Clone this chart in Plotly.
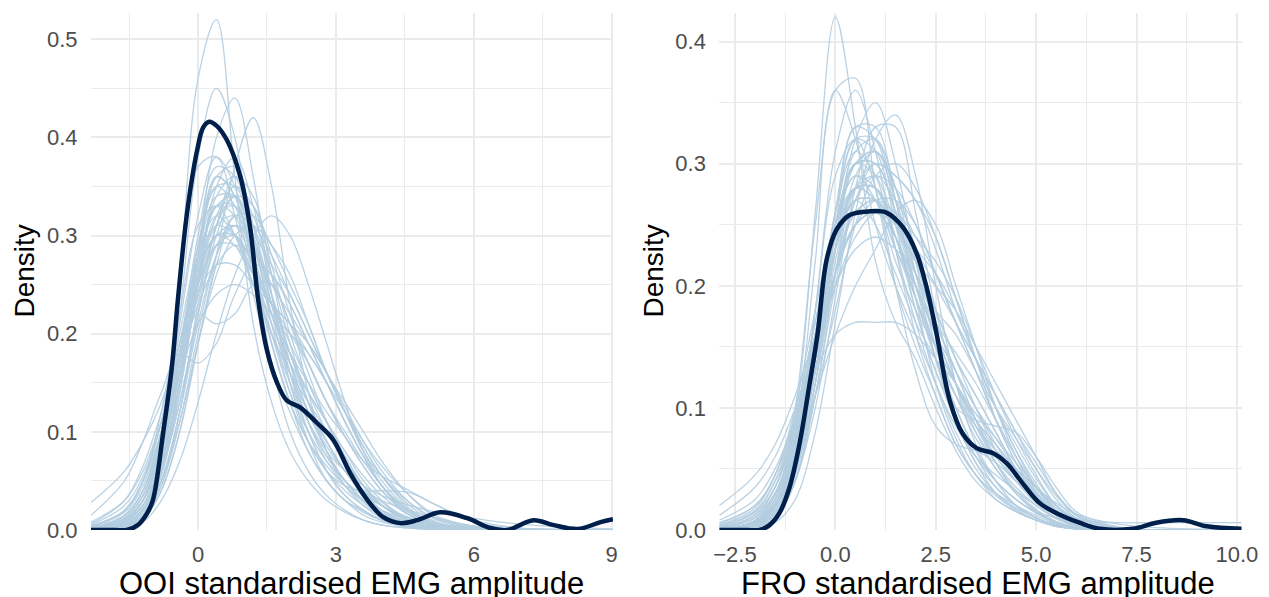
import plotly.graph_objects as go

# ---------------- OOI panel (left) ----------------
ooi_grid = [-2.33, -1.6, -1.2, -0.8, -0.4, 0.0, 0.4, 0.8, 1.2, 1.6, 2.0,
            2.4, 2.8, 3.2, 3.6, 4.0, 4.6, 5.2, 6.0, 7.0, 9.03]

ooi_reps = [
    [0.0, 0.002, 0.01, 0.06, 0.25, 0.46, 0.52, 0.36, 0.21, 0.13, 0.08, 0.05, 0.03, 0.018, 0.01, 0.005, 0.002, 0.001, 0, 0, 0],
    [0.0, 0.004, 0.02, 0.08, 0.22, 0.38, 0.45, 0.40, 0.28, 0.17, 0.10, 0.06, 0.035, 0.02, 0.01, 0.005, 0.002, 0.0, 0, 0, 0],
    [0.0, 0.003, 0.015, 0.06, 0.15, 0.28, 0.40, 0.44, 0.36, 0.24, 0.15, 0.09, 0.05, 0.03, 0.015, 0.008, 0.003, 0.001, 0, 0, 0],
    [0.0, 0.002, 0.01, 0.04, 0.10, 0.19, 0.28, 0.37, 0.42, 0.35, 0.23, 0.14, 0.08, 0.045, 0.025, 0.012, 0.004, 0.001, 0, 0, 0],
    [0.001, 0.008, 0.03, 0.10, 0.25, 0.37, 0.38, 0.32, 0.24, 0.17, 0.12, 0.08, 0.05, 0.03, 0.018, 0.01, 0.004, 0.001, 0, 0, 0],
    [0.0, 0.002, 0.008, 0.03, 0.07, 0.13, 0.20, 0.26, 0.30, 0.32, 0.30, 0.25, 0.19, 0.13, 0.08, 0.045, 0.015, 0.004, 0, 0, 0],
    [0.015, 0.05, 0.09, 0.14, 0.18, 0.17, 0.19, 0.24, 0.27, 0.26, 0.23, 0.19, 0.15, 0.11, 0.075, 0.045, 0.018, 0.006, 0.001, 0, 0],
    [0.028, 0.06, 0.09, 0.13, 0.19, 0.25, 0.29, 0.30, 0.27, 0.22, 0.17, 0.12, 0.08, 0.05, 0.03, 0.017, 0.006, 0.002, 0, 0, 0],
    [0.002, 0.015, 0.04, 0.10, 0.19, 0.28, 0.34, 0.34, 0.29, 0.22, 0.15, 0.10, 0.06, 0.035, 0.02, 0.01, 0.004, 0.001, 0, 0, 0],
    [0.001, 0.01, 0.03, 0.08, 0.16, 0.25, 0.32, 0.35, 0.32, 0.26, 0.19, 0.13, 0.08, 0.05, 0.03, 0.015, 0.005, 0.001, 0, 0, 0],
    [0.003, 0.02, 0.05, 0.11, 0.20, 0.29, 0.35, 0.33, 0.27, 0.20, 0.14, 0.10, 0.07, 0.05, 0.035, 0.025, 0.012, 0.005, 0.001, 0, 0],
    [0.001, 0.01, 0.03, 0.07, 0.15, 0.24, 0.30, 0.31, 0.27, 0.22, 0.18, 0.15, 0.12, 0.095, 0.07, 0.055, 0.04, 0.025, 0.01, 0.002, 0],
    [0.002, 0.012, 0.035, 0.09, 0.18, 0.30, 0.37, 0.36, 0.30, 0.21, 0.14, 0.09, 0.06, 0.04, 0.025, 0.015, 0.007, 0.003, 0.001, 0, 0],
    [0.0, 0.005, 0.02, 0.06, 0.13, 0.22, 0.30, 0.34, 0.33, 0.28, 0.22, 0.17, 0.13, 0.095, 0.065, 0.04, 0.015, 0.004, 0, 0, 0],
    [0.008, 0.03, 0.06, 0.11, 0.16, 0.21, 0.24, 0.25, 0.24, 0.22, 0.20, 0.18, 0.15, 0.12, 0.09, 0.065, 0.035, 0.014, 0.004, 0.001, 0],
    [0.001, 0.008, 0.025, 0.07, 0.15, 0.26, 0.35, 0.38, 0.33, 0.24, 0.16, 0.10, 0.06, 0.035, 0.02, 0.01, 0.003, 0.001, 0, 0, 0],
    [0.004, 0.02, 0.05, 0.12, 0.22, 0.31, 0.33, 0.30, 0.25, 0.20, 0.16, 0.12, 0.09, 0.06, 0.04, 0.02, 0.007, 0.002, 0, 0, 0],
    [0.0, 0.004, 0.015, 0.05, 0.12, 0.21, 0.28, 0.31, 0.30, 0.27, 0.24, 0.20, 0.16, 0.12, 0.085, 0.055, 0.025, 0.008, 0.001, 0, 0],
    [0.001, 0.01, 0.03, 0.08, 0.17, 0.27, 0.33, 0.32, 0.26, 0.19, 0.13, 0.09, 0.06, 0.045, 0.04, 0.04, 0.038, 0.025, 0.008, 0.002, 0],
    [0.002, 0.015, 0.04, 0.09, 0.17, 0.25, 0.29, 0.29, 0.26, 0.23, 0.20, 0.17, 0.13, 0.095, 0.065, 0.04, 0.016, 0.005, 0.001, 0, 0],
    [0.0, 0.006, 0.02, 0.06, 0.14, 0.25, 0.33, 0.33, 0.28, 0.22, 0.17, 0.13, 0.09, 0.06, 0.035, 0.02, 0.008, 0.002, 0, 0, 0],
    [0.001, 0.01, 0.03, 0.08, 0.16, 0.25, 0.30, 0.29, 0.25, 0.20, 0.15, 0.11, 0.08, 0.06, 0.045, 0.035, 0.025, 0.018, 0.012, 0.006, 0.001],
    [0.003, 0.02, 0.05, 0.11, 0.21, 0.32, 0.38, 0.35, 0.27, 0.19, 0.13, 0.08, 0.05, 0.03, 0.02, 0.01, 0.004, 0.001, 0, 0, 0],
    [0.0, 0.005, 0.018, 0.05, 0.11, 0.19, 0.26, 0.30, 0.31, 0.29, 0.26, 0.21, 0.16, 0.12, 0.08, 0.05, 0.02, 0.006, 0, 0, 0],
    [0.002, 0.015, 0.04, 0.10, 0.18, 0.22, 0.21, 0.22, 0.25, 0.25, 0.21, 0.16, 0.11, 0.07, 0.045, 0.025, 0.01, 0.003, 0.001, 0, 0],
    [0.001, 0.008, 0.025, 0.075, 0.17, 0.29, 0.36, 0.34, 0.27, 0.19, 0.13, 0.09, 0.065, 0.045, 0.03, 0.02, 0.01, 0.004, 0.001, 0, 0],
    [0.006, 0.03, 0.065, 0.12, 0.19, 0.26, 0.30, 0.30, 0.26, 0.21, 0.16, 0.11, 0.075, 0.05, 0.03, 0.018, 0.007, 0.002, 0, 0, 0],
    [0.0, 0.003, 0.012, 0.045, 0.12, 0.23, 0.31, 0.34, 0.31, 0.26, 0.21, 0.17, 0.13, 0.10, 0.07, 0.045, 0.02, 0.006, 0.001, 0, 0],
    [0.001, 0.01, 0.03, 0.085, 0.18, 0.28, 0.32, 0.30, 0.25, 0.20, 0.16, 0.13, 0.10, 0.07, 0.045, 0.025, 0.009, 0.003, 0, 0, 0],
    [0.002, 0.012, 0.035, 0.085, 0.16, 0.24, 0.31, 0.36, 0.34, 0.26, 0.17, 0.11, 0.07, 0.045, 0.028, 0.015, 0.005, 0.001, 0, 0, 0],
    [0.001, 0.006, 0.02, 0.06, 0.13, 0.22, 0.29, 0.31, 0.29, 0.25, 0.22, 0.19, 0.16, 0.125, 0.09, 0.06, 0.028, 0.01, 0.002, 0, 0],
    [0.0, 0.004, 0.015, 0.05, 0.12, 0.22, 0.31, 0.35, 0.33, 0.27, 0.20, 0.15, 0.11, 0.08, 0.055, 0.035, 0.015, 0.005, 0.001, 0, 0],
    [0.002, 0.012, 0.035, 0.09, 0.18, 0.27, 0.31, 0.30, 0.26, 0.23, 0.21, 0.18, 0.15, 0.11, 0.075, 0.045, 0.018, 0.006, 0.001, 0, 0],
    [0.0, 0.005, 0.02, 0.06, 0.15, 0.27, 0.36, 0.37, 0.31, 0.23, 0.16, 0.11, 0.075, 0.05, 0.03, 0.016, 0.006, 0.002, 0, 0, 0],
    [0.003, 0.018, 0.045, 0.10, 0.18, 0.26, 0.30, 0.30, 0.27, 0.23, 0.19, 0.15, 0.11, 0.075, 0.045, 0.025, 0.009, 0.003, 0, 0, 0],
    [0.0, 0.003, 0.012, 0.04, 0.10, 0.19, 0.27, 0.32, 0.32, 0.29, 0.25, 0.21, 0.16, 0.12, 0.08, 0.055, 0.028, 0.011, 0.003, 0, 0],
    [0.001, 0.01, 0.03, 0.08, 0.17, 0.28, 0.35, 0.35, 0.30, 0.23, 0.17, 0.12, 0.085, 0.06, 0.04, 0.025, 0.012, 0.005, 0.001, 0, 0],
    [0.005, 0.025, 0.055, 0.11, 0.18, 0.24, 0.27, 0.27, 0.25, 0.23, 0.21, 0.19, 0.16, 0.12, 0.085, 0.055, 0.022, 0.007, 0.001, 0, 0],
    [0.0, 0.006, 0.022, 0.065, 0.15, 0.26, 0.33, 0.34, 0.30, 0.24, 0.18, 0.14, 0.10, 0.07, 0.045, 0.028, 0.012, 0.005, 0.002, 0.001, 0],
    [0.002, 0.014, 0.04, 0.095, 0.18, 0.26, 0.31, 0.32, 0.29, 0.24, 0.18, 0.13, 0.09, 0.06, 0.04, 0.025, 0.012, 0.006, 0.003, 0.001, 0],
    [0.001, 0.008, 0.025, 0.07, 0.15, 0.25, 0.32, 0.33, 0.29, 0.23, 0.18, 0.14, 0.11, 0.08, 0.05, 0.03, 0.01, 0.003, 0, 0, 0],
    [0.0, 0.004, 0.016, 0.055, 0.14, 0.25, 0.34, 0.36, 0.31, 0.24, 0.18, 0.13, 0.09, 0.06, 0.04, 0.03, 0.02, 0.012, 0.004, 0.001, 0],
    [0.004, 0.02, 0.05, 0.10, 0.17, 0.23, 0.27, 0.29, 0.28, 0.26, 0.23, 0.19, 0.15, 0.11, 0.075, 0.045, 0.018, 0.005, 0.001, 0, 0],
    [0.001, 0.007, 0.025, 0.07, 0.16, 0.28, 0.36, 0.34, 0.27, 0.21, 0.17, 0.14, 0.11, 0.075, 0.045, 0.025, 0.01, 0.003, 0, 0, 0],
    [0.0, 0.003, 0.013, 0.045, 0.11, 0.20, 0.28, 0.32, 0.31, 0.28, 0.24, 0.20, 0.16, 0.13, 0.10, 0.07, 0.035, 0.012, 0.003, 0, 0],
]

# observed density (y)
ooi_obs_x = [-2.33, -1.8, -1.55, -1.31, -1.11, -0.98, -0.76, -0.57, -0.44, -0.24, -0.02,
             0.11, 0.24, 0.40, 0.63, 0.92, 1.13, 1.31, 1.50, 1.72, 1.93, 2.22, 2.59,
             2.94, 3.31, 3.68, 4.03, 4.40, 4.77, 5.27, 5.86, 6.36, 6.73, 7.30, 7.74,
             8.26, 8.76, 9.03]
ooi_obs_y = [0.0, 0.0, 0.0, 0.005, 0.017, 0.031, 0.099, 0.166, 0.234, 0.323, 0.387,
             0.41, 0.416, 0.412, 0.397, 0.36, 0.309, 0.234, 0.183, 0.15, 0.132, 0.125, 0.109,
             0.092, 0.058, 0.031, 0.013, 0.007, 0.010, 0.018, 0.012, 0.002, 0.0, 0.010, 0.005,
             0.001, 0.008, 0.011]

# ---------------- FRO panel (right) ----------------
fro_grid = [-2.89, -2.0, -1.5, -1.0, -0.5, 0.0, 0.5, 1.0, 1.5, 2.0, 2.5,
            3.0, 3.5, 4.0, 4.5, 5.0, 5.5, 6.0, 7.0, 8.0, 10.12]

fro_reps = [
    [0.0, 0.003, 0.02, 0.09, 0.26, 0.42, 0.33, 0.22, 0.17, 0.14, 0.10, 0.065, 0.04, 0.025, 0.015, 0.008, 0.003, 0.001, 0, 0, 0],
    [0.0, 0.004, 0.02, 0.08, 0.22, 0.36, 0.37, 0.28, 0.20, 0.15, 0.11, 0.07, 0.045, 0.025, 0.015, 0.008, 0.003, 0.001, 0, 0, 0],
    [0.001, 0.006, 0.025, 0.10, 0.25, 0.36, 0.32, 0.25, 0.20, 0.16, 0.12, 0.08, 0.05, 0.03, 0.018, 0.01, 0.004, 0.001, 0, 0, 0],
    [0.0, 0.003, 0.015, 0.06, 0.18, 0.31, 0.36, 0.31, 0.23, 0.16, 0.11, 0.07, 0.045, 0.03, 0.02, 0.012, 0.005, 0.002, 0, 0, 0],
    [0.0, 0.002, 0.01, 0.04, 0.12, 0.23, 0.32, 0.35, 0.30, 0.22, 0.15, 0.10, 0.065, 0.04, 0.025, 0.014, 0.006, 0.002, 0, 0, 0],
    [0.0, 0.001, 0.006, 0.025, 0.08, 0.17, 0.26, 0.32, 0.34, 0.29, 0.20, 0.12, 0.07, 0.04, 0.02, 0.01, 0.004, 0.001, 0, 0, 0],
    [0.0, 0.002, 0.01, 0.04, 0.10, 0.19, 0.28, 0.33, 0.33, 0.26, 0.18, 0.12, 0.08, 0.05, 0.03, 0.015, 0.006, 0.002, 0, 0, 0],
    [0.001, 0.006, 0.02, 0.05, 0.11, 0.18, 0.25, 0.29, 0.30, 0.28, 0.24, 0.19, 0.14, 0.09, 0.055, 0.03, 0.012, 0.004, 0, 0, 0],
    [0.002, 0.01, 0.03, 0.06, 0.11, 0.16, 0.20, 0.23, 0.26, 0.27, 0.25, 0.20, 0.15, 0.10, 0.06, 0.032, 0.014, 0.005, 0, 0, 0],
    [0.008, 0.025, 0.05, 0.09, 0.13, 0.16, 0.17, 0.17, 0.17, 0.16, 0.14, 0.12, 0.09, 0.07, 0.05, 0.035, 0.02, 0.01, 0.002, 0, 0],
    [0.02, 0.045, 0.07, 0.11, 0.16, 0.21, 0.25, 0.26, 0.24, 0.19, 0.14, 0.09, 0.06, 0.035, 0.02, 0.01, 0.004, 0.001, 0, 0, 0],
    [0.0, 0.004, 0.02, 0.07, 0.18, 0.29, 0.32, 0.28, 0.20, 0.13, 0.085, 0.07, 0.065, 0.055, 0.04, 0.025, 0.012, 0.004, 0.001, 0, 0],
    [0.001, 0.006, 0.02, 0.06, 0.14, 0.23, 0.28, 0.28, 0.24, 0.18, 0.13, 0.10, 0.09, 0.085, 0.08, 0.06, 0.035, 0.015, 0.003, 0, 0],
    [0.001, 0.008, 0.03, 0.08, 0.16, 0.25, 0.30, 0.30, 0.26, 0.20, 0.14, 0.09, 0.055, 0.03, 0.017, 0.008, 0.003, 0.001, 0, 0, 0],
    [0.002, 0.012, 0.035, 0.09, 0.17, 0.24, 0.27, 0.27, 0.25, 0.22, 0.18, 0.14, 0.11, 0.08, 0.05, 0.028, 0.012, 0.004, 0, 0, 0],
    [0.0, 0.005, 0.02, 0.06, 0.14, 0.24, 0.31, 0.32, 0.28, 0.21, 0.14, 0.09, 0.055, 0.035, 0.02, 0.01, 0.004, 0.001, 0, 0, 0],
    [0.004, 0.018, 0.045, 0.10, 0.18, 0.25, 0.28, 0.27, 0.23, 0.20, 0.17, 0.145, 0.12, 0.09, 0.06, 0.035, 0.015, 0.005, 0, 0, 0],
    [0.0, 0.003, 0.014, 0.05, 0.13, 0.23, 0.30, 0.31, 0.27, 0.22, 0.17, 0.13, 0.09, 0.055, 0.03, 0.015, 0.006, 0.002, 0, 0, 0],
    [0.001, 0.008, 0.025, 0.07, 0.14, 0.21, 0.25, 0.26, 0.24, 0.20, 0.16, 0.12, 0.09, 0.07, 0.05, 0.035, 0.022, 0.013, 0.005, 0.002, 0],
    [0.002, 0.012, 0.035, 0.085, 0.16, 0.26, 0.32, 0.31, 0.25, 0.18, 0.13, 0.09, 0.06, 0.04, 0.025, 0.014, 0.006, 0.002, 0, 0, 0],
    [0.001, 0.007, 0.025, 0.07, 0.15, 0.23, 0.28, 0.28, 0.24, 0.19, 0.14, 0.10, 0.065, 0.04, 0.025, 0.015, 0.01, 0.008, 0.006, 0.006, 0.006],
    [0.0, 0.004, 0.018, 0.06, 0.15, 0.26, 0.33, 0.33, 0.27, 0.19, 0.12, 0.075, 0.045, 0.028, 0.016, 0.008, 0.003, 0.001, 0, 0, 0],
    [0.003, 0.015, 0.04, 0.09, 0.15, 0.21, 0.25, 0.27, 0.27, 0.25, 0.21, 0.17, 0.13, 0.09, 0.06, 0.035, 0.016, 0.006, 0, 0, 0],
    [0.012, 0.035, 0.06, 0.10, 0.15, 0.20, 0.23, 0.24, 0.23, 0.21, 0.17, 0.13, 0.09, 0.06, 0.04, 0.025, 0.012, 0.005, 0.001, 0, 0],
    [0.001, 0.006, 0.022, 0.065, 0.15, 0.25, 0.29, 0.27, 0.22, 0.18, 0.15, 0.12, 0.085, 0.055, 0.032, 0.017, 0.007, 0.002, 0, 0, 0],
    [0.0, 0.002, 0.01, 0.04, 0.11, 0.21, 0.29, 0.31, 0.28, 0.23, 0.18, 0.14, 0.10, 0.065, 0.04, 0.022, 0.01, 0.003, 0, 0, 0],
    [0.002, 0.01, 0.03, 0.075, 0.15, 0.23, 0.27, 0.25, 0.21, 0.17, 0.14, 0.11, 0.085, 0.065, 0.05, 0.035, 0.02, 0.009, 0.002, 0, 0],
    [0.0, 0.003, 0.012, 0.045, 0.12, 0.22, 0.28, 0.29, 0.27, 0.24, 0.21, 0.17, 0.13, 0.09, 0.055, 0.03, 0.012, 0.004, 0, 0, 0],
    [0.006, 0.02, 0.045, 0.095, 0.17, 0.25, 0.29, 0.28, 0.24, 0.19, 0.15, 0.11, 0.075, 0.05, 0.03, 0.016, 0.006, 0.002, 0, 0, 0],
    [0.001, 0.006, 0.025, 0.075, 0.16, 0.26, 0.31, 0.29, 0.23, 0.17, 0.12, 0.085, 0.06, 0.045, 0.032, 0.02, 0.01, 0.004, 0.001, 0, 0],
    [0.0, 0.004, 0.016, 0.055, 0.13, 0.21, 0.26, 0.27, 0.26, 0.23, 0.20, 0.17, 0.14, 0.11, 0.08, 0.05, 0.025, 0.01, 0.002, 0, 0],
    [0.001, 0.007, 0.025, 0.07, 0.15, 0.24, 0.30, 0.30, 0.26, 0.21, 0.17, 0.13, 0.10, 0.07, 0.045, 0.026, 0.012, 0.005, 0.001, 0, 0],
    [0.003, 0.014, 0.035, 0.08, 0.14, 0.20, 0.24, 0.26, 0.26, 0.24, 0.22, 0.19, 0.15, 0.11, 0.075, 0.045, 0.02, 0.008, 0.001, 0, 0],
    [0.0, 0.003, 0.013, 0.05, 0.13, 0.23, 0.30, 0.31, 0.28, 0.23, 0.18, 0.14, 0.11, 0.08, 0.05, 0.028, 0.012, 0.004, 0.001, 0, 0],
    [0.002, 0.01, 0.03, 0.075, 0.15, 0.23, 0.28, 0.28, 0.25, 0.21, 0.18, 0.16, 0.13, 0.10, 0.075, 0.05, 0.028, 0.012, 0.002, 0, 0],
    [0.0, 0.002, 0.01, 0.04, 0.11, 0.20, 0.27, 0.30, 0.29, 0.27, 0.23, 0.18, 0.14, 0.10, 0.065, 0.035, 0.015, 0.005, 0.001, 0, 0],
    [0.005, 0.02, 0.045, 0.09, 0.16, 0.23, 0.27, 0.27, 0.24, 0.20, 0.16, 0.12, 0.09, 0.065, 0.045, 0.028, 0.014, 0.006, 0.001, 0, 0],
    [0.0, 0.004, 0.018, 0.06, 0.14, 0.25, 0.32, 0.32, 0.27, 0.21, 0.16, 0.12, 0.085, 0.06, 0.04, 0.025, 0.012, 0.005, 0.001, 0, 0],
    [0.001, 0.006, 0.02, 0.06, 0.13, 0.21, 0.26, 0.27, 0.25, 0.22, 0.20, 0.18, 0.15, 0.12, 0.09, 0.06, 0.03, 0.012, 0.002, 0, 0],
    [0.002, 0.012, 0.035, 0.085, 0.16, 0.24, 0.28, 0.27, 0.23, 0.19, 0.15, 0.12, 0.095, 0.075, 0.055, 0.035, 0.018, 0.007, 0.001, 0, 0],
    [0.0, 0.003, 0.014, 0.05, 0.12, 0.21, 0.28, 0.30, 0.29, 0.27, 0.24, 0.19, 0.14, 0.10, 0.065, 0.038, 0.016, 0.005, 0.001, 0, 0],
    [0.001, 0.008, 0.028, 0.075, 0.16, 0.25, 0.30, 0.29, 0.25, 0.20, 0.16, 0.13, 0.10, 0.075, 0.05, 0.03, 0.014, 0.005, 0.001, 0, 0],
    [0.004, 0.016, 0.04, 0.085, 0.15, 0.21, 0.25, 0.26, 0.25, 0.23, 0.21, 0.18, 0.14, 0.10, 0.07, 0.042, 0.02, 0.008, 0.001, 0, 0],
    [0.0, 0.005, 0.02, 0.065, 0.15, 0.26, 0.33, 0.32, 0.26, 0.20, 0.15, 0.11, 0.08, 0.055, 0.035, 0.02, 0.009, 0.003, 0, 0, 0],
    [0.001, 0.006, 0.022, 0.06, 0.13, 0.21, 0.27, 0.29, 0.28, 0.25, 0.21, 0.17, 0.14, 0.11, 0.08, 0.055, 0.03, 0.013, 0.002, 0, 0],
]

fro_obs_x = [-2.89, -2.2, -1.89, -1.64, -1.39, -1.14, -0.89, -0.64, -0.44, -0.22, 0.03,
             0.36, 0.85, 1.27, 1.68, 2.02, 2.27, 2.52, 2.85, 3.17, 3.52, 3.92, 4.26,
             4.67, 5.09, 5.50, 6.08, 6.58, 7.41, 7.99, 8.66, 9.25, 10.12]
fro_obs_y = [0.0, 0.0, 0.0, 0.004, 0.014, 0.035, 0.071, 0.12, 0.161, 0.221, 0.246,
             0.258, 0.261, 0.260, 0.248, 0.227, 0.199, 0.161, 0.106, 0.079, 0.067, 0.063, 0.055,
             0.038, 0.022, 0.014, 0.006, 0.001, 0.001, 0.006, 0.008, 0.003, 0.001]

LIGHT = "rgba(179,205,224,0.9)"
DARK = "#011f4b"
GRID = "#ebebeb"
W, H = 1269, 597
OFF = 8            # default body margin of the html page
FW, FH = W - OFF, H - OFF


def px_x(p):
    return (p - OFF) / FW


def px_y(p):
    return (H - p) / FH


fig = go.Figure()

for reps, grid, obs_x, obs_y, xa, ya in [
        (ooi_reps, ooi_grid, ooi_obs_x, ooi_obs_y, "x", "y"),
        (fro_reps, fro_grid, fro_obs_x, fro_obs_y, "x2", "y2")]:
    for ys in reps:
        fig.add_trace(go.Scatter(
            x=grid, y=ys, mode="lines", xaxis=xa, yaxis=ya,
            line=dict(color=LIGHT, width=1.3, shape="spline"),
            hoverinfo="skip", showlegend=False))
    fig.add_trace(go.Scatter(
        x=obs_x, y=obs_y, mode="lines", xaxis=xa, yaxis=ya,
        line=dict(color=DARK, width=4.5, shape="spline"),
        showlegend=False))

tick_font = dict(family="Liberation Sans, Arial", size=22, color="#4d4d4d")
common = dict(showgrid=True, gridcolor=GRID, gridwidth=2, zeroline=False,
              showline=False, ticks="outside", tickcolor="rgba(0,0,0,0)",
              tickfont=tick_font, automargin=False)

ydom = [px_y(530), px_y(12.7)]

fig.update_layout(
    width=FW, height=FH,
    margin=dict(l=0, r=0, t=0, b=0),
    paper_bgcolor="white", plot_bgcolor="white",
    xaxis=dict(domain=[px_x(91), px_x(613)], range=[-2.33, 9.03], tick0=0, dtick=3,
               ticklen=5,
               minor=dict(dtick=1.5, showgrid=True, gridcolor=GRID, gridwidth=1),
               anchor="y", **common),
    yaxis=dict(domain=ydom, range=[0, 0.527], tick0=0, dtick=0.1, tickformat=".1f",
               ticklen=8,
               minor=dict(dtick=0.05, showgrid=True, gridcolor=GRID, gridwidth=1),
               anchor="x", **common),
    xaxis2=dict(domain=[px_x(719.3), px_x(1241.7)], range=[-2.89, 10.12], tick0=0, dtick=2.5,
                tickformat=".1f", ticklen=5,
                minor=dict(dtick=1.25, showgrid=True, gridcolor=GRID, gridwidth=1),
                anchor="y2", **common),
    yaxis2=dict(domain=ydom, range=[0, 0.4237], tick0=0, dtick=0.1, tickformat=".1f",
                ticklen=8,
                minor=dict(dtick=0.05, showgrid=True, gridcolor=GRID, gridwidth=1),
                anchor="x2", **common),
)

xtitle_font = dict(family="Liberation Sans, Arial", size=31, color="black")
ytitle_font = dict(family="Liberation Sans, Arial", size=28, color="black")
for x_px, text in [(352, "OOI standardised EMG amplitude"),
                   (978, "FRO standardised EMG amplitude")]:
    fig.add_annotation(x=px_x(x_px), y=px_y(564), xref="paper", yref="paper",
                       text=text, showarrow=False, font=xtitle_font,
                       xanchor="center", yanchor="top")
for x_px in [23.5, 652.5]:
    fig.add_annotation(x=px_x(x_px), y=px_y(271), xref="paper", yref="paper",
                       text="Density", textangle=-90, showarrow=False, font=ytitle_font,
                       xanchor="center", yanchor="middle")

fig.write_html("out.html")
